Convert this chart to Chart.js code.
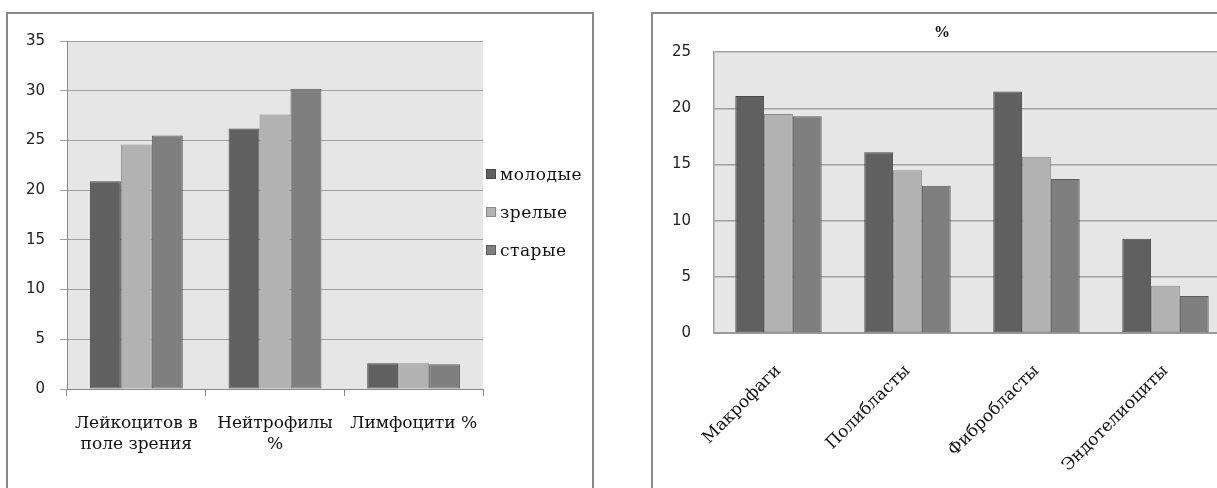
<!DOCTYPE html>
<html>
<head>
<meta charset="utf-8">
<script src="https://cdn.jsdelivr.net/npm/chart.js@4.4.1/dist/chart.umd.min.js"></script>
<style>
    html, body { margin: 0; padding: 0; background: #fff; overflow: hidden; width: 1217px; height: 488px; }
    .frame { position: absolute; border: 2px solid #8a8a8a; background: #fefefe; }
    #left-frame { left: 6px; top: 12px; width: 584px; height: 500px; }
    #right-frame { left: 651px; top: 12px; width: 620px; height: 500px; }
    canvas { position: absolute; }
    #leftChart { left: 10px; top: 15px; }
    #rightChart { left: 654px; top: 15px; }
    #left-legend { position: absolute; left: 486px; top: 0; font: 17px "DejaVu Serif", serif; color: #111; }
    .legend-item { position: absolute; left: 0; white-space: nowrap; height: 20px; line-height: 20px; }
    .legend-box { position: absolute; left: 0; top: 5px; width: 10px; height: 10px; box-sizing: border-box; border: 1px solid #555; }
    .legend-text { position: absolute; left: 14px; top: 0; letter-spacing: 0.5px; }
</style>
</head>
<body>
<div class="frame" id="left-frame"></div>
<div class="frame" id="right-frame"></div>
<canvas id="leftChart" width="580" height="473"></canvas>
<canvas id="rightChart" width="596" height="473"></canvas>
<div id="left-legend"></div>
<script>
// данные
const seriesLabels = ['молодые', 'зрелые', 'старые'];
const seriesColors = ['#606060', '#b2b2b2', '#7f7f7f'];
const seriesBorders = ['#4a4a4a', '#8a8a8a', '#5c5c5c'];

const leftCategories = [['Лейкоцитов в', 'поле зрения'], ['Нейтрофилы', '%'], 'Лимфоцити %'];
const leftYoung = [20.9, 26.2, 2.6];
const leftMature = [24.6, 27.6, 2.6];
const leftOld = [25.5, 30.2, 2.5];
const leftTickMax = 35;
const leftTickStep = 5;

const rightTitle = '%';
const rightCategories = ['Макрофаги', 'Полибласты', 'Фибробласты', 'Эндотелиоциты'];
const rightYoung = [21.1, 16.1, 21.5, 8.4];
const rightMature = [19.5, 14.5, 15.7, 4.2];
const rightOld = [19.3, 13.1, 13.7, 3.3];
const rightTickMax = 25;
const rightTickStep = 5;

const plotBackground = {
    id: 'plotBackground',
    beforeDraw(chart) {
        const { ctx, chartArea } = chart;
        ctx.save();
        ctx.fillStyle = '#e6e6e6';
        ctx.fillRect(chartArea.left, chartArea.top, chartArea.right - chartArea.left, chartArea.bottom - chartArea.top);
        ctx.restore();
    }
};

function makeDatasets(young, mature, old) {
    return [young, mature, old].map((data, i) => ({
        label: seriesLabels[i],
        data: data,
        backgroundColor: seriesColors[i],
        borderColor: seriesBorders[i],
        borderWidth: 1,
        borderSkipped: false,
        categoryPercentage: 0.67,
        barPercentage: 1.0
    }));
}

const tickFont = { family: 'DejaVu Sans', size: 15 };
const labelFont = { family: 'DejaVu Serif', size: 17, lineHeight: 1.24 };

new Chart(document.getElementById('leftChart'), {
    type: 'bar',
    data: { labels: leftCategories, datasets: makeDatasets(leftYoung, leftMature, leftOld) },
    options: {
        responsive: false,
        devicePixelRatio: 1,
        animation: false,
        layout: { padding: { top: 26, right: 107, bottom: 19, left: 0 } },
        plugins: { legend: { display: false }, tooltip: { enabled: false } },
        scales: {
            x: {
                grid: { offset: true, drawOnChartArea: false, drawTicks: true, tickLength: 7, color: '#888' },
                border: { display: true, color: '#888' },
                ticks: { color: '#111', font: labelFont, padding: 17, maxRotation: 0 },
                afterFit: (scale) => { scale.height = 80; }
            },
            y: {
                min: 0,
                max: leftTickMax,
                grid: { color: '#a0a0a0', tickLength: 7 },
                border: { display: true, color: '#888' },
                ticks: { stepSize: leftTickStep, color: '#222', font: tickFont, padding: 15 },
                afterFit: (scale) => { scale.width = 57; }
            }
        }
    },
    plugins: [plotBackground]
});

// легенда слева
const legendEl = document.getElementById('left-legend');
seriesLabels.forEach((label, i) => {
    const item = document.createElement('div');
    item.className = 'legend-item';
    item.style.top = (164 + i * 38) + 'px';
    item.innerHTML = `<span class="legend-box" style="background:${seriesColors[i]};border-color:${seriesBorders[i]}"></span><span class="legend-text">${label}</span>`;
    legendEl.appendChild(item);
});

new Chart(document.getElementById('rightChart'), {
    type: 'bar',
    data: { labels: rightCategories, datasets: makeDatasets(rightYoung, rightMature, rightOld) },
    options: {
        responsive: false,
        devicePixelRatio: 1,
        animation: false,
        layout: { padding: { top: 0, right: 20, bottom: 15, left: 0 } },
        plugins: {
            legend: { display: false },
            tooltip: { enabled: false },
            title: {
                display: true,
                text: rightTitle,
                color: '#111',
                font: { family: 'Liberation Serif', size: 16, weight: 'bold' },
                padding: { top: 8, bottom: 10 }
            }
        },
        scales: {
            x: {
                grid: { display: false },
                border: { display: true, color: '#999', width: 2 },
                ticks: { color: '#111', font: { family: 'DejaVu Serif', size: 17 }, minRotation: 45, maxRotation: 45, padding: 20 },
                afterFit: (scale) => { scale.height = 140; }
            },
            y: {
                min: 0,
                max: rightTickMax,
                grid: { color: '#a0a0a0', lineWidth: 1.5, drawTicks: false },
                border: { display: true, color: '#a0a0a0', width: 1.5 },
                ticks: { stepSize: rightTickStep, color: '#222', font: tickFont, padding: 23 },
                afterFit: (scale) => { scale.width = 60; }
            }
        }
    },
    plugins: [plotBackground]
});
</script>
</body>
</html>
